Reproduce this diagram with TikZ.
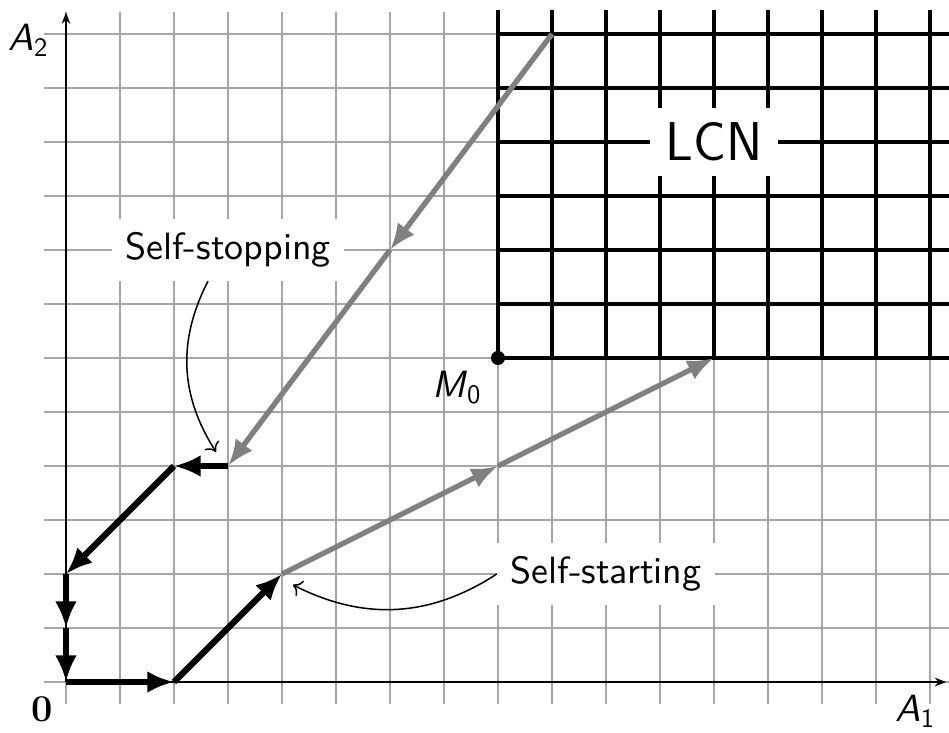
\documentclass[tikz,border=0pt]{standalone}
\usepackage{fontspec}
\newfontfamily\tagfont{lmsans10-regular.otf}[ItalicFont=lmsans10-oblique.otf]
\usetikzlibrary{arrows.meta, positioning}

\begin{document}
\begin{tikzpicture}[
    gridline/.style={draw=black!35, line width=0.6pt},
    axis/.style={-{Stealth[length=6pt, width=4.5pt]}, line width=0.8pt},
    lcnline/.style={line width=1.8pt},
    lcnedge/.style={line width=2.4pt},
    blackmove/.style={-{Latex[length=14pt, width=11.5pt]}, line width=3.2pt},
    graymove/.style={-{Latex[length=14pt, width=11pt]}, line width=2.8pt, draw=black!50},
    tag/.style={fill=white, inner sep=7pt, font=\tagfont\fontsize{20}{24}\selectfont},
    axislabel/.style={inner sep=0pt, font=\tagfont\fontsize{20}{24}\selectfont},
    pointer/.style={-{To[length=4.5pt, width=9pt]}, line width=0.8pt}
]
    \useasboundingbox (-1.222,-0.944) rectangle (16.352,12.63);

    % Background grid and axes
    \draw[gridline] (-0.4,-0.4) grid (16.4,12.4);
    \coordinate (O) at (0,0);
    \draw[axis] (O) -- (16.3,0);
    \draw[axis] (O) -- (0,12.4);

    % LCN region
    \foreach \x in {9,...,16}
        \draw[lcnline] (\x,6) -- (\x,12.44);
    \foreach \y in {7,...,12}
        \draw[lcnline] (8,\y) -- (16.4,\y);
    \draw[lcnedge] (8,12.44) -- (8,6) -- (16.4,6);

    \node[tag, inner sep=8pt, font=\sffamily\fontsize{28.8}{34}\selectfont] (lcn) at (12,10) {LCN};
    \node[tag] (stop) at (3,8) {Self-stopping};
    \node[tag] (start) at (10,2) {Self-starting};

    % Trajectory points
    \coordinate (P1) at (2,0);
    \coordinate (P2) at (4,2);
    \coordinate (P3) at (8,4);
    \coordinate (P4) at (12,6);
    \coordinate (Q0) at (9,12);
    \coordinate (Q1) at (6,8);
    \coordinate (Q2) at (3,4);
    \coordinate (Q3) at (2,4);
    \coordinate (Q4) at (0,2);
    \coordinate (Q5) at (0,1);
    \coordinate (M0) at (8,6);

    % Gray moves
    \draw[graymove] (Q0) -- (Q1);
    \draw[graymove] (Q1) -- (Q2);
    \draw[graymove] (P2) -- (P3);
    \draw[graymove] (P3) -- (P4);

    % Black moves
    \draw[blackmove] (Q2) -- (Q3);
    \draw[blackmove] (Q3) -- (Q4);
    \draw[blackmove] (Q4) -- (Q5);
    \draw[blackmove] (Q5) -- (O);
    \draw[blackmove] (O) -- (P1);
    \draw[blackmove] (P1) -- (P2);

    % Pointers from the tags
    \coordinate (stoptip) at (2.78,4.26);
    \coordinate (starttip) at (4.2,1.8);
    \draw[pointer] ([xshift=-0.37cm]stop.south) to[bend right=30] (stoptip);
    \draw[pointer] (start.west) to[bend left=30] (starttip);

    % Point M0 and axis labels
    \fill (M0) circle (0.13);
    \node[axislabel, anchor=base east] (m0) at (7.7,5.26) {\textit{M}\textsubscript{0}};
    \node[axislabel, anchor=base] (zero) at (-0.435,-0.74) {\rmfamily\bfseries 0};
    \node[axislabel, anchor=base east] (a1) at (16.1,-0.74) {\textit{A}\textsubscript{1}};
    \node[axislabel, anchor=base east] (a2) at (-0.32,11.70) {\textit{A}\textsubscript{2}};
\end{tikzpicture}
\end{document}
